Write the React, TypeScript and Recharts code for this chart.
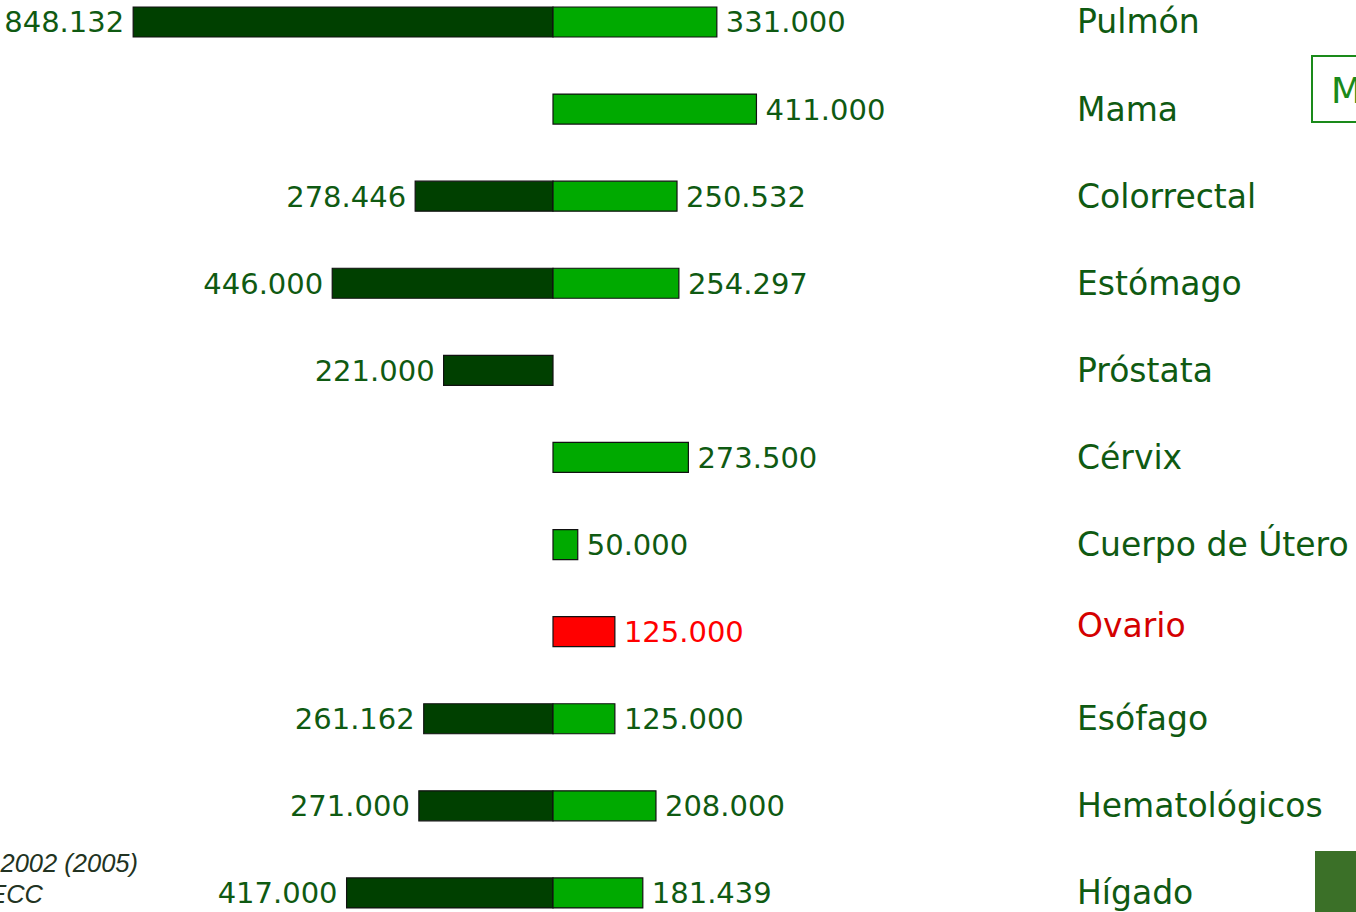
import { BarChart, Bar, XAxis, YAxis, LabelList, Cell } from "recharts";

const categories = [
  "Pulmón",
  "Mama",
  "Colorrectal",
  "Estómago",
  "Próstata",
  "Cérvix",
  "Cuerpo de Útero",
  "Ovario",
  "Esófago",
  "Hematológicos",
  "Hígado",
];
const hombres: (number | null)[] = [848132, null, 278446, 446000, 221000, null, null, null, 261162, 271000, 417000];
const mujeres: (number | null)[] = [331000, 411000, 250532, 254297, null, 273500, 50000, 125000, 125000, 208000, 181439];
const highlighted = "Ovario";

const DARK = "#004000";
const BRIGHT = "#00aa00";
const RED = "#ff0000";
const TEXT = "#0f5a12";

const data = categories.map((name, i) => ({
  name,
  hombres: hombres[i],
  mujeres: mujeres[i],
  hombresNeg: hombres[i] == null ? null : -(hombres[i] as number),
}));

const fmt = (v: number) => String(Math.round(v)).replace(/\B(?=(\d{3})+(?!\d))/g, ".");

const box = (props: any) => {
  const vb = props.viewBox || props;
  return { x: Number(vb.x), y: Number(vb.y), w: Number(vb.width), h: Number(vb.height) };
};

const LeftLabel = (props: any) => {
  if (props.value == null) return null;
  const { x, y, w, h } = box(props);
  const left = Math.min(x, x + w);
  return (
    <text x={left - 9} y={y + h / 2} dy="0.36em" textAnchor="end" fontFamily="DejaVu Sans" fontSize={29} fill={TEXT}>
      {fmt(props.value)}
    </text>
  );
};

const RightLabel = (props: any) => {
  const v = props.value;
  if (v == null || v.mujeres == null) return null;
  const { x, y, w, h } = box(props);
  const right = Math.max(x, x + w);
  const red = v.name === highlighted;
  return (
    <text x={right + 9} y={y + h / 2} dy="0.36em" textAnchor="start" fontFamily="DejaVu Sans" fontSize={29} fill={red ? RED : TEXT}>
      {fmt(v.mujeres)}
    </text>
  );
};

const CategoryTick = ({ x, y, payload }: any) => {
  const red = payload.value === highlighted;
  return (
    <text
      x={x}
      y={y + (red ? -6 : 0)}
      dy="0.36em"
      textAnchor="start"
      fontFamily="DejaVu Sans"
      fontSize={33}
      fill={red ? "#d40000" : TEXT}
    >
      {payload.value}
    </text>
  );
};

export default function App() {
  return (
    <div style={{ position: "absolute", left: 0, top: 0, width: 1356, height: 912, overflow: "hidden", background: "#fff" }}>
      <div style={{ position: "absolute", left: 0, top: -22 }}>
        <BarChart
          width={1356}
          height={958}
          data={data}
          layout="vertical"
          stackOffset="sign"
          barSize={30}
          margin={{ top: 0, right: 0, bottom: 0, left: 58 }}
        >
          <XAxis type="number" domain={[-1000000, 1000000]} hide />
          <YAxis
            type="category"
            dataKey="name"
            orientation="right"
            width={308}
            axisLine={false}
            tickLine={false}
            tickSize={0}
            tickMargin={29}
            interval={0}
            tick={<CategoryTick />}
          />
          <Bar dataKey="hombresNeg" stackId="a" fill={DARK} stroke="#111" strokeWidth={1.2} isAnimationActive={false}>
            <LabelList dataKey="hombres" content={<LeftLabel />} />
          </Bar>
          <Bar dataKey="mujeres" stackId="a" fill={BRIGHT} stroke="#111" strokeWidth={1.2} isAnimationActive={false}>
            {data.map((d) => (
              <Cell key={d.name} fill={d.name === highlighted ? RED : BRIGHT} />
            ))}
            <LabelList dataKey={(d: any) => d} content={<RightLabel />} />
          </Bar>
        </BarChart>
      </div>
      <svg width={1356} height={912} style={{ position: "absolute", left: 0, top: 0, pointerEvents: "none" }}>
        <text x={138} y={872} textAnchor="end" fontFamily="Liberation Sans" fontStyle="italic" fontSize={25.5} fill="#223322">
          2002 (2005)
        </text>
        <text x={43} y={903} textAnchor="end" fontFamily="Liberation Sans" fontStyle="italic" fontSize={25.5} fill="#223322">
          ECC
        </text>
        <rect x={1312} y={56} width={60} height={66} fill="none" stroke="#1a8a1a" strokeWidth={2} />
        <text x={1331} y={103} fontFamily="DejaVu Sans" fontSize={36} fill="#1a8a1a">
          M
        </text>
        <rect x={1315} y={851} width={41} height={61} fill="#3b7028" />
      </svg>
    </div>
  );
}
